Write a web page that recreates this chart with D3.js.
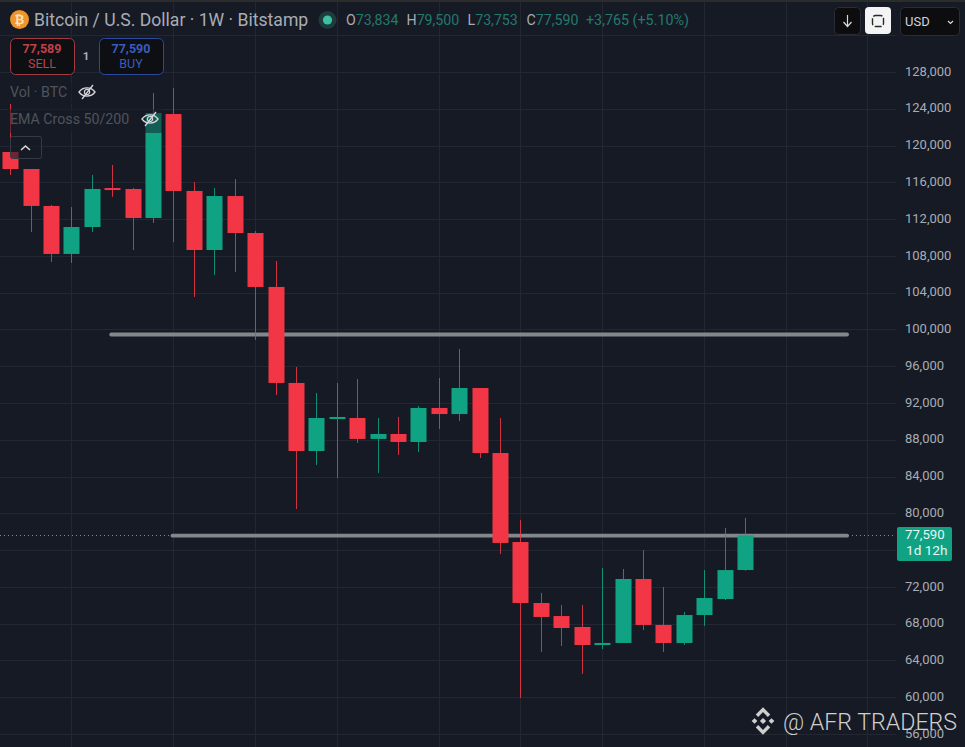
<!DOCTYPE html>
<html><head><meta charset="utf-8">
<script src="https://cdn.jsdelivr.net/npm/d3@7/dist/d3.min.js"></script>
<style>html,body{margin:0;padding:0;background:#161a25}svg{display:block}text{font-family:Roboto,sans-serif}</style>
</head><body><svg id="c" width="965" height="747"></svg>
<script>
const opens=[119300,117450,113430,108210,111140,115380,115280,112120,123430,115060,108640,114510,110490,104620,94180,86780,90260,90370,88090,88630,87760,91460,90800,93630,86560,76880,70250,68830,67640,65680,65900,72860,67860,65900,68940,70680,73834];
const highs=[124520,117450,113540,113320,116800,117890,115380,125710,126260,116040,115380,116360,110710,107450,95920,93090,94180,94610,90370,90480,91680,94720,97870,93630,90370,79280,71340,70030,70030,74060,73950,76010,71990,69270,73830,78410,79500];
const lows=[116800,110600,107340,107230,110600,114410,108640,111580,109510,103530,105920,106250,98850,92870,80470,85260,83840,87650,84390,86350,86670,89170,90040,86020,75580,59920,64920,65570,62530,65250,65900,67310,64920,65680,67750,70570,73753];
const closes=[117450,113430,108210,111140,115280,115170,112120,123540,115060,108640,114510,110490,104620,94180,86780,90370,90480,88090,88630,87760,91460,90800,93630,86560,76780,70250,68730,67530,65680,65900,72860,67860,65900,68940,70790,73830,77590];
const priceTicks=[128000,124000,120000,116000,112000,108000,104000,100000,96000,92000,88000,84000,80000,72000,68000,64000,60000,56000];
const gridPrices=[132000,...priceTicks,76000];
const gridBars=[3,8,12,16,21,25,29,34,38,42];
const levels=[{p:99450,from:4.9,to:41},{p:77570,from:7.9,to:41}];
const lastPrice=77590;

const BG="#161a25",RED="#f23645",GREEN="#0fa384",GRID="#232732",TXT="#a9acb4";
const svg=d3.select("#c");
const y=d3.scaleLinear().domain([128000,56000]).range([72,734]);
const x=d3.scaleLinear().domain([0,36]).range([10.2,745]);
svg.append("rect").attr("width",965).attr("height",747).attr("fill",BG);
svg.append("rect").attr("width",965).attr("height",2).attr("fill","#2c2c2c");

const grid=svg.append("g").attr("stroke",GRID).attr("stroke-width",1);
grid.selectAll(".h").data(gridPrices).join("line").attr("x1",0).attr("x2",896)
  .attr("y1",d=>Math.round(y(d))+.5).attr("y2",d=>Math.round(y(d))+.5);
grid.selectAll(".v").data(gridBars).join("line").attr("y1",2).attr("y2",747)
  .attr("x1",d=>Math.round(x(d))+.5).attr("x2",d=>Math.round(x(d))+.5);

// last price dotted line
const ly=Math.round(y(lastPrice))+.5;
svg.append("line").attr("x1",0).attr("x2",896).attr("y1",ly).attr("y2",ly)
  .attr("stroke","#2bb89a").attr("stroke-width",1).attr("stroke-dasharray","1 3");

// level lines
svg.append("g").selectAll("line").data(levels).join("line")
  .attr("x1",d=>x(d.from)+1).attr("x2",d=>x(d.to)).attr("y1",d=>y(d.p)).attr("y2",d=>y(d.p))
  .attr("stroke","#82878b").attr("stroke-width",3.8).attr("stroke-linecap","round");

// candles
const idx=d3.range(opens.length);
const col=i=>closes[i]>=opens[i]?GREEN:RED;
const cs=svg.append("g");
cs.selectAll(".w").data(idx).join("line")
  .attr("x1",i=>Math.round(x(i))+.5).attr("x2",i=>Math.round(x(i))+.5)
  .attr("y1",i=>y(highs[i])).attr("y2",i=>y(lows[i]))
  .attr("stroke",col).attr("stroke-width",1).attr("stroke-opacity",.85);
cs.selectAll(".b").data(idx).join("rect")
  .attr("x",i=>Math.round(x(i))+.5-8).attr("width",16)
  .attr("y",i=>y(Math.max(opens[i],closes[i])))
  .attr("height",i=>Math.max(2,Math.abs(y(opens[i])-y(closes[i]))))
  .attr("fill",col);

// price axis
const axis=d3.axisRight(y).tickValues(priceTicks).tickSize(0).tickPadding(0).tickFormat(d3.format(","));
const ag=svg.append("g").attr("transform","translate(905,-1)").call(axis);
ag.select(".domain").remove();
ag.selectAll("text").attr("fill",TXT).style("font-size","13px").style("font-family","Roboto,sans-serif").attr("dy","0.32em");

// price tag
svg.append("rect").attr("x",897).attr("y",527).attr("width",55).attr("height",34).attr("rx",2).attr("fill",GREEN);
svg.append("text").attr("x",905).attr("y",539).attr("fill","#e8f5f1").attr("font-size",13.2).text(d3.format(",")(lastPrice));
svg.append("text").attr("x",906).attr("y",555).attr("fill","#e8f5f1").attr("font-size",13.6).text("1d 12h");

// legend overlay
svg.append("rect").attr("x",8).attr("y",109).attr("width",154).attr("height",24).attr("fill",BG).attr("opacity",.5);
svg.append("rect").attr("x",8).attr("y",82).attr("width",90).attr("height",22).attr("fill",BG).attr("opacity",.5);
svg.append("rect").attr("x",10.5).attr("y",136.5).attr("width",31).attr("height",22).attr("rx",2).attr("fill",BG).attr("fill-opacity",.6).attr("stroke","#363a45");
svg.append("path").attr("d","M21 150l4.5-4 4.5 4").attr("fill","none").attr("stroke","#d8d8d8").attr("stroke-width",1.6);
svg.append("text").attr("x",10).attr("y",97).attr("fill","#50535c").attr("font-size",14.2).text("Vol · BTC");
svg.append("text").attr("x",10).attr("y",124).attr("fill","#50535c").attr("font-size",14.2).text("EMA Cross 50/200");
[[87,92],[150,119]].forEach(([cx,cy])=>{
  const g=svg.append("g").attr("transform",`translate(${cx},${cy})`).attr("fill","none").attr("stroke","#d5d7db").attr("stroke-width",1.3);
  g.append("path").attr("d","M-8 0C-4-5.5 4-5.5 8 0C4 5.5-4 5.5-8 0Z");
  g.append("circle").attr("r",2.6);
  g.append("path").attr("d","M-5 7L6-7");
});

// header
svg.append("circle").attr("cx",19.5).attr("cy",19.5).attr("r",9.5).attr("fill","#f0952b");
svg.append("text").attr("x",19.5).attr("y",24).attr("text-anchor","middle").attr("fill","#fbe3c0").attr("font-size",12).attr("font-weight",700).text("₿");
svg.append("text").attr("x",34).attr("y",26).attr("fill",TXT).attr("font-size",17.6).text("Bitcoin / U.S. Dollar · 1W · Bitstamp");
svg.append("circle").attr("cx",327.5).attr("cy",20).attr("r",9).attr("fill","#1c3d3c");
svg.append("circle").attr("cx",327.5).attr("cy",20).attr("r",4.6).attr("fill","#3fbfa4");
const ohlc=[["O","73,834",346],["H","79,500",406.5],["L","73,753",467.5],["C","77,590",526.5]];
const TEAL="#23796c";
ohlc.forEach(([k,v,px])=>{
  const t=svg.append("text").attr("x",px).attr("y",25).attr("font-size",14.2);
  t.append("tspan").attr("fill",TXT).text(k);
  t.append("tspan").attr("fill",TEAL).text(v);
});
svg.append("text").attr("x",586).attr("y",25).attr("font-size",14.3).attr("fill",TEAL).text("+3,765 (+5.10%)");

// sell / buy
[["77,589","SELL",10,"#a03c42","#c2404a"],["77,590","BUY",99,"#2c4a9c","#3a5cc0"]].forEach(([p,l,bx,st,c])=>{
  svg.append("rect").attr("x",bx+.5).attr("y",38.5).attr("width",64).attr("height",36).attr("rx",5).attr("fill","#0e0f13").attr("stroke",st);
  svg.append("text").attr("x",bx+32).attr("y",53).attr("text-anchor","middle").attr("fill",c).attr("font-size",12.5).attr("font-weight",700).text(p);
  svg.append("text").attr("x",bx+32).attr("y",68).attr("text-anchor","middle").attr("fill",c).attr("font-size",12.5).text(l);
});
svg.append("text").attr("x",86).attr("y",60).attr("text-anchor","middle").attr("fill",TXT).attr("font-size",11.5).attr("font-weight",700).text("1");

// top-right controls
svg.append("rect").attr("x",834.5).attr("y",7.5).attr("width",26).attr("height",27).attr("rx",4).attr("fill","#0d0d0f").attr("stroke","#2a2d35");
svg.append("path").attr("d","M847.5 15v11M843.5 22l4 4.5 4-4.5").attr("fill","none").attr("stroke","#d8d8d8").attr("stroke-width",1.2);
svg.append("rect").attr("x",865).attr("y",7).attr("width",26).attr("height",27).attr("rx",4).attr("fill","#f4f4f5");
svg.append("rect").attr("x",872.5).attr("y",15.5).attr("width",11).attr("height",11).attr("rx",3).attr("fill","none").attr("stroke","#26282e").attr("stroke-width",1.4).attr("stroke-dasharray","7 2 ");
svg.append("rect").attr("x",900.5).attr("y",7.5).attr("width",59).attr("height",28).attr("rx",4).attr("fill","#0d0d0f").attr("stroke","#2a2d35");
svg.append("text").attr("x",905).attr("y",26).attr("fill","#d1d4dc").attr("font-size",13).text("USD");
svg.append("path").attr("d","M948 21l2.5 2.5 2.5-2.5").attr("fill","none").attr("stroke","#d8d8d8").attr("stroke-width",1.2);

// watermark
const wm=svg.append("g").attr("fill","#cfcfcf");
const logo=wm.append("g").attr("transform","translate(763,721) rotate(45)");
logo.append("path").attr("fill","none").attr("stroke","#cfcfcf").attr("stroke-width",3.4)
  .attr("d","M-8 0.5V-8H0.5 M8 -0.5V8H-0.5");
logo.append("rect").attr("x",-2.2).attr("y",-2.2).attr("width",4.4).attr("height",4.4);
logo.append("rect").attr("x",-8).attr("y",4).attr("width",4).attr("height",4);
logo.append("rect").attr("x",4).attr("y",-8).attr("width",4).attr("height",4);
wm.append("text").attr("x",783).attr("y",730).attr("font-size",24).attr("font-weight",300).attr("textLength",174).attr("lengthAdjust","spacingAndGlyphs").text("@ AFR TRADERS");
</script></body></html>
